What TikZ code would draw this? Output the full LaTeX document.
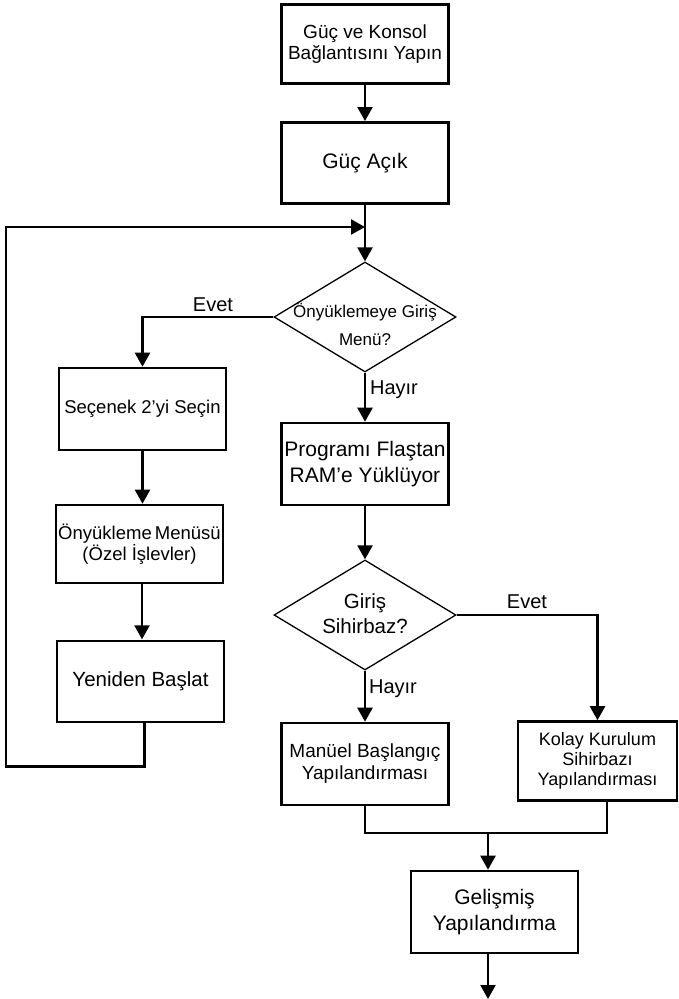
\documentclass[tikz,border=0pt]{standalone}
\usepackage{fontspec}
\setmainfont{Liberation Sans}
\usetikzlibrary{arrows.meta,shapes.geometric,calc}
\begin{document}
\begin{tikzpicture}[x=1pt,y=-1pt,
  box/.style={draw,line width=2.6pt,minimum width=167pt,minimum height=82pt,inner sep=0pt,align=center},
  dia/.style={draw,diamond,line width=1.3pt,minimum width=182pt,minimum height=110pt,inner sep=0pt},
  txt/.style={align=center,inner sep=0pt},
  conn/.style={line width=2.4pt},
  arr/.style={line width=2.4pt,-{Triangle[width=15pt,length=14pt]}},
  lbl/.style={inner sep=0pt,font=\fontsize{20}{24}\selectfont}]
\useasboundingbox (0,0) rectangle (678,999);

\node[box,minimum height=79pt,font=\fontsize{19}{21}\selectfont] (b1) at (365,44) {Güç ve Konsol\\Bağlantısını Yapın};
\node[box,minimum height=81pt,font=\fontsize{21}{25}\selectfont] (b2) at (365,162.8) {Güç Açık};
\node[dia] (d1) at (365,317) {};
\node[txt,font=\fontsize{17}{28}\selectfont] (d1t) at (365,324) {Önyüklemeye Giriş\\Menü?};
\node[box,font=\fontsize{18.5}{22}\selectfont] (s1) at (142.5,409) {Seçenek 2’yi Seçin};
\node[box,minimum height=78pt,font=\fontsize{18.5}{21}\selectfont] (s2) at (139.5,544) {Önyükleme\hspace{-2pt} Menüsü\\(Özel İşlevler)};
\node[box,minimum height=81pt,font=\fontsize{20.5}{24}\selectfont] (s3) at (140.5,681.5) {Yeniden Başlat};
\node[box,font=\fontsize{21}{26}\selectfont] (p1) at (365,464) {Programı Flaştan\\RAM’e Yüklüyor};
\node[dia] (d2) at (365,615) {};
\node[txt,font=\fontsize{20.5}{25}\selectfont] (d2t) at (365,614) {Giriş\\Sihirbaz?};
\node[box,font=\fontsize{19}{22}\selectfont] (m1) at (365,764) {Manüel Başlangıç\\Yapılandırması};
\node[box,minimum width=159pt,minimum height=79pt,font=\fontsize{18}{20}\selectfont] (k1) at (597.5,761) {Kolay Kurulum\\Sihirbazı\\Yapılandırması};
\node[box,font=\fontsize{21}{26}\selectfont] (g1) at (494.5,912) {Gelişmiş\\Yapılandırma};

\node[lbl] (e1) at (213,305) {Evet};
\node[lbl] (h1) at (394,390) {Hayır};
\node[lbl] (e2) at (527,602) {Evet};
\node[lbl] (h2) at (393,689) {Hayır};

\coordinate (loopin) at (365,227);
\coordinate (j) at (488,833);
\coordinate (endpt) at (488,999);

\draw[arr] (b1) -- (b2);
\draw[arr] (b2) -- (d1.north);
\draw[arr] ([xshift=4pt]s3.south) -- ++(0,43) -| (6,227) -- (loopin);
\draw[arr] (d1.west) -| (s1.north);
\draw[arr] (s1) -- (s1 |- s2.north);
\draw[arr] (s2.south) ++(2.5,0) -- ++(0,55);
\draw[arr] (d1.south) -- (p1.north);
\draw[arr] (p1.south) -- (d2.north);
\draw[arr] (d2.east) -| (k1.north);
\draw[arr] (d2.south) -- (m1.north);
\draw[conn] (m1.south) |- (j) -| ([xshift=9.5pt]k1.south);
\draw[arr] (j) -- (j |- g1.north);
\draw[arr] (j |- g1.south) -- (endpt);
\end{tikzpicture}
\end{document}
